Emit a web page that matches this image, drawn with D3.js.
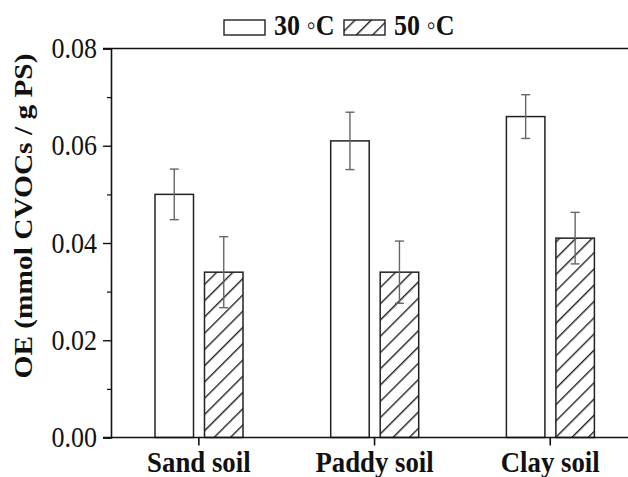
<!DOCTYPE html>
<html><head><meta charset="utf-8">
<script src="https://cdn.jsdelivr.net/npm/d3@7"></script>
<style>body{margin:0;background:#fff}svg{display:block}</style>
</head><body>
<svg id="c" width="628" height="477"></svg>
<script>
const categories = ["Sand soil", "Paddy soil", "Clay soil"];
const series = ["30 ◦C", "50 ◦C"];
const values30 = [0.050, 0.061, 0.066];
const values50 = [0.034, 0.034, 0.041];
const errors30 = [0.0052, 0.0059, 0.0045];
const errors50 = [0.0073, 0.0064, 0.0053];
const yTicks = [0.00, 0.02, 0.04, 0.06, 0.08];
const yMinorTicks = [0.01, 0.03, 0.05, 0.07];

const svg = d3.select("#c");
const FONT = "'Liberation Serif','Times New Roman',serif";
const SY = 1.13;
const mLeft = 111, mBottom = 437.5, mTop = 48.5;

const x0 = d3.scaleBand().domain(categories).range([mLeft, mLeft + 3 * 175.7]).padding(0);
const x1 = d3.scaleBand().domain(series).range([44, 132]).paddingInner(0.222);
const y = d3.scaleLinear().domain([0, 0.08]).range([mBottom, mTop]);

const defs = svg.append("defs");
const pat = defs.append("pattern").attr("id", "hatch").attr("patternUnits", "userSpaceOnUse")
  .attr("width", 11.5).attr("height", 11.5).attr("patternTransform", "rotate(45)");
pat.append("rect").attr("width", 11.5).attr("height", 11.5).attr("fill", "#fff");
pat.append("line").attr("x1", 0.7).attr("y1", 0).attr("x2", 0.7).attr("y2", 11.5)
  .attr("stroke", "#222").attr("stroke-width", 1.4);

const data = categories.map((c, i) => [
  {cat: c, s: series[0], v: values30[i], e: errors30[i]},
  {cat: c, s: series[1], v: values50[i], e: errors50[i]}
]).flat();

// bars
svg.append("g").selectAll("rect").data(data).join("rect")
  .attr("x", d => x0(d.cat) + x1(d.s))
  .attr("y", d => y(d.v))
  .attr("width", x1.bandwidth())
  .attr("height", d => y(0) - y(d.v))
  .attr("fill", d => d.s === series[0] ? "#fff" : "url(#hatch)")
  .attr("stroke", "#222").attr("stroke-width", 1.5);

// error bars
const eg = svg.append("g").attr("stroke", "#666").attr("stroke-width", 1.4);
data.forEach(d => {
  const cx = x0(d.cat) + x1(d.s) + x1.bandwidth() / 2;
  eg.append("line").attr("x1", cx).attr("x2", cx).attr("y1", y(d.v + d.e)).attr("y2", y(d.v - d.e));
  [d.v + d.e, d.v - d.e].forEach(v => eg.append("line")
    .attr("x1", cx - 4.5).attr("x2", cx + 4.5).attr("y1", y(v)).attr("y2", y(v)));
});

// frame lines
const ax = svg.append("g").attr("stroke", "#111").attr("stroke-width", 1.6);
ax.append("line").attr("x1", mLeft - 8).attr("x2", 628).attr("y1", mTop).attr("y2", mTop);
ax.append("line").attr("x1", mLeft - 8).attr("x2", 628).attr("y1", mBottom).attr("y2", mBottom);

// y axis
const yAxis = d3.axisLeft(y).tickValues(yTicks).tickFormat(d3.format(".2f")).tickSize(8).tickPadding(6);
const ya = svg.append("g").attr("transform", `translate(${mLeft},0)`).call(yAxis);
ya.select(".domain").attr("stroke", "#111").attr("stroke-width", 1.6);
ya.selectAll(".tick line").attr("stroke", "#111").attr("stroke-width", 1.4);
ya.selectAll(".tick text").attr("font-family", FONT).attr("font-size", 26).attr("fill", "#111")
  .attr("dy", null).attr("y", 9 / SY).attr("transform", `scale(1,${SY})`);
svg.append("g").attr("transform", `translate(${mLeft},0)`)
  .call(d3.axisLeft(y).tickValues(yMinorTicks).tickFormat("").tickSize(4))
  .call(g => g.select(".domain").remove())
  .selectAll(".tick line").attr("stroke", "#111").attr("stroke-width", 1.2);

// x axis
const xAxis = d3.axisBottom(x0).tickSize(8).tickFormat("");
const xa = svg.append("g").attr("transform", `translate(0,${mBottom})`).call(xAxis);
xa.select(".domain").remove();
xa.selectAll(".tick line").attr("stroke", "#111").attr("stroke-width", 1.6);
categories.forEach(c => {
  svg.append("text").attr("transform", `translate(${x0(c) + x0.bandwidth() / 2},472) scale(1.03,${SY})`)
    .attr("text-anchor", "middle").attr("font-family", FONT).attr("font-weight", "bold")
    .attr("font-size", 26).attr("fill", "#111").text(c);
});

// y title
svg.append("text").attr("transform", `translate(32,216) scale(1,${SY}) rotate(-90)`)
  .attr("text-anchor", "middle").attr("font-family", FONT).attr("font-weight", "bold")
  .attr("font-size", 26).attr("fill", "#111").text("OE (mmol CVOCs / g PS)");

// legend
const legX = [224, 344];
series.forEach((s, i) => {
  svg.append("rect").attr("x", legX[i]).attr("y", 20).attr("width", 41).attr("height", 15)
    .attr("fill", i === 0 ? "#fff" : "url(#hatch)").attr("stroke", "#222").attr("stroke-width", 1.4);
  svg.append("text").attr("transform", `translate(${legX[i] + 50},35) scale(1,${SY})`)
    .attr("font-family", FONT).attr("font-weight", "bold").attr("font-size", 26)
    .attr("fill", "#111").text(s);
});
</script>
</body></html>
